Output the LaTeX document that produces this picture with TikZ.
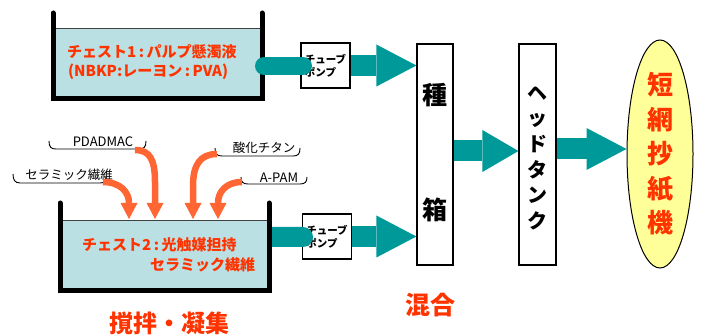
\documentclass[tikz,border=0pt]{standalone}
\usepackage{fontspec}
\setmainfont{Noto Sans CJK JP}
\usetikzlibrary{arrows.meta,shapes.geometric}
\definecolor{jred}{HTML}{FF3300}
\definecolor{jorange}{HTML}{FF6633}
\definecolor{jteal}{HTML}{009999}
\definecolor{jblue}{HTML}{BBE0E3}
\definecolor{jyellow}{HTML}{FFFF99}
\tikzset{
 wall/.style={line width=5pt, line cap=round, line join=miter},
 liqline/.style={line width=0.8pt, draw=black!75},
 pump/.style={draw, line width=1.2pt, fill=white, minimum width=49pt, minimum height=45pt, inner sep=0pt, align=left, font=\bfseries\fontsize{10.5}{13}\selectfont},
 pipe/.style={draw=jteal, line width=18pt, line cap=round},
 chesttext/.style={anchor=west, text=jred, font=\bfseries\fontsize{15}{18}\selectfont, inner sep=0pt},
 lbl/.style={font=\fontsize{12.5}{14}\selectfont, inner sep=0pt},
 brk/.style={line width=0.9pt},
 oarr/.style={draw=jorange, line width=6.5pt, -{Triangle[width=17pt,length=16pt,line width=0pt]}},
 tarr/.style={draw=jteal, line width=21pt, -{Triangle[width=42pt,length=40pt,line width=0pt]}},
 tank/.style={draw, line width=1.2pt, fill=white, minimum width=37pt, minimum height=221pt, inner sep=0pt},
 bigred/.style={text=jred, font=\bfseries\fontsize{25}{30}\selectfont, inner sep=0pt},
 tanktext/.style={font=\bfseries\fontsize{25}{30}\selectfont, inner sep=0pt},
}
\begin{document}
\begin{tikzpicture}[x=1pt,y=-1pt]
\useasboundingbox (0,0) rectangle (703,336);

% pumps
\node[pump] (p1) at (325.5,65.5) {チューブ\\ポンプ};
\node[pump] (p2) at (327,236.5) {チューブ\\ポンプ};

% chest 2
\fill[jteal] (266,227) -- (303,227) arc[start angle=-90,end angle=90,radius=10] -- (266,247) -- cycle;
\fill[jblue] (60,220) rectangle (269,289);
\draw[liqline] (60,220) -- (269,220);
\draw[wall] (60,203) -- (60,290) -- (269,290) -- (269,203);
\node[chesttext] (c2a) at (82,245) {チェスト2\,:\,光触媒担持};
\node[chesttext] (c2b) at (150,265) {セラミック繊維};

% chest 1
\fill[jblue] (53,28) rectangle (262,99);
\draw[liqline] (53,28) -- (262,28);
\draw[wall] (53,13) -- (53,99) -- (262,99) -- (262,13);
\node[chesttext] (c1a) at (67,52) {チェスト1\,:\,パルプ懸濁液};
\node[chesttext] (c1b) at (68,72) {(NBKP:レーヨン\,:\,PVA)};
\draw[pipe] (264,66) -- (303,66);

% additive labels
\node[lbl] (l1) at (69,175) {セラミック繊維};
\node[lbl, font=\fontsize{13}{14}\selectfont] (l2) at (103,142) {PDADMAC};
\node[lbl] (l3) at (264,148) {酸化チタン};
\node[lbl, font=\fontsize{13}{14}\selectfont] (l4) at (279,178) {A-PAM};
\draw[brk] (13,174) .. controls (13,180) and (15,183) .. (20,183) -- (100,183) .. controls (104,183) and (106,181) .. (106,176);
\draw[brk] (49,141) .. controls (49,147) and (51,149) .. (56,149) -- (139,149) .. controls (144,149) and (146,147) .. (146,141);
\draw[brk] (215,148) .. controls (215,154) and (217,156) .. (222,156) -- (293,156) .. controls (298,156) and (300,154) .. (300,148);
\draw[brk] (241,177) .. controls (241,182) and (243,184) .. (248,184) -- (300,184) .. controls (305,184) and (307,182) .. (307,177);

\coordinate (s1) at (103,182);
\coordinate (s2) at (135,150);
\coordinate (s3) at (217,154);
\coordinate (s4) at (242,182);
\coordinate (t1) at (129,219);
\coordinate (t2) at (155,219);
\coordinate (t3) at (193,219);
\coordinate (t4) at (218,219);
\draw[oarr] (s1) .. controls (120,182) and (129,192) .. (t1);
\draw[oarr] (s2) .. controls (150,150) and (155,160) .. (155,182) -- (t2);
\draw[oarr] (s3) .. controls (200,154) and (193,165) .. (193,186) -- (t3);
\draw[oarr] (s4) .. controls (226,182) and (218,192) .. (t4);

% tanks
\node[tank, minimum width=36pt] (seed) at (435,154.5) {};
\node[tanktext] (seedA) at (435,95) {種};
\node[tanktext] (seedB) at (435,210) {箱};
\node[tank] (head) at (537.5,154.5) {};
\node[font=\bfseries\fontsize{20}{25.6}\selectfont, align=center, inner sep=0pt] (headtxt) at (537.5,158) {ヘ\\ッ\\ド\\タ\\ン\\ク};
\node[draw, ellipse, fill=jyellow, line width=1pt, minimum width=66pt, minimum height=228pt, inner sep=0pt] (mach) at (660,154) {};
\node[text=jred, font=\bfseries\fontsize{26}{34.5}\selectfont, align=center, inner sep=0pt] (machtxt) at (mach.center) {短\\網\\抄\\紙\\機};

% teal arrows
\coordinate (m1) at (0,151);
\coordinate (m2) at (0,149);
\draw[tarr] (p1.east) -- (p1.east -| seed.west);
\draw[tarr] (p2.east) -- (p2.east -| seed.west);
\draw[tarr, -{Triangle[width=42pt,length=36pt,line width=0pt]}] (seed.east |- m1) -- (head.west |- m1);
\draw[tarr] (head.east |- m2) -- (mach.west |- m2);

% stage labels
\node[bigred, font=\bfseries\fontsize{24}{30}\selectfont] (stir) at (169,323) {撹拌・凝集};
\node[bigred] (mix) at (430,305) {混合};
\end{tikzpicture}
\end{document}
